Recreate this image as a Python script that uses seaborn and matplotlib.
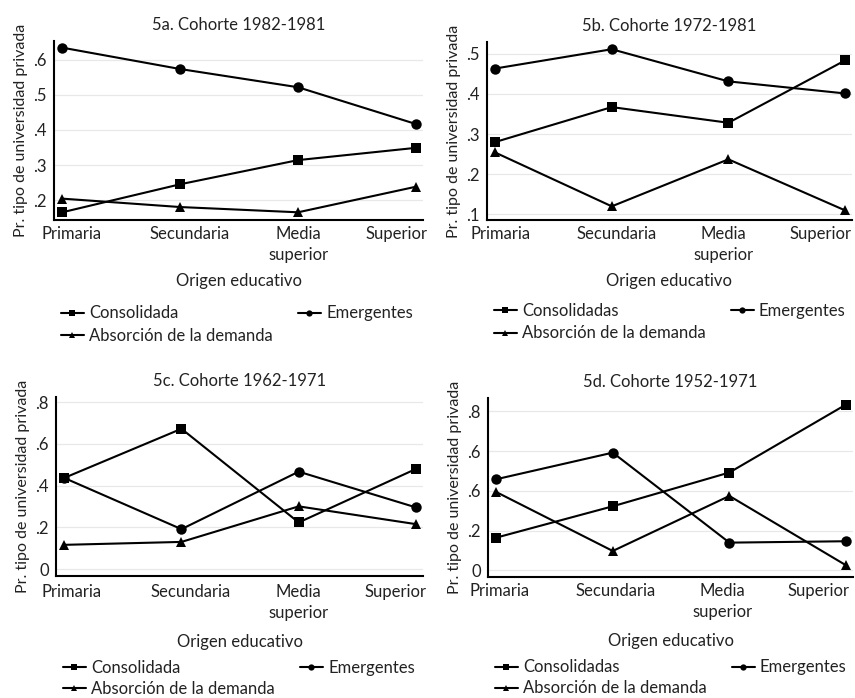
import matplotlib
matplotlib.use("Agg")
import matplotlib.pyplot as plt
import matplotlib.transforms as mtransforms
import seaborn as sns
import pandas as pd

categories = ["Primaria", "Secundaria", "Media\nsuperior", "Superior"]

titles = ["5a. Cohorte 1982-1981", "5b. Cohorte 1972-1981",
          "5c. Cohorte 1962-1971", "5d. Cohorte 1952-1971"]
consol_labels = ["Consolidada", "Consolidadas", "Consolidada", "Consolidadas"]
emerg_label = "Emergentes"
absor_label = "Absorción de la demanda"

consol_a = [0.165, 0.245, 0.314, 0.349]
emerg_a = [0.635, 0.574, 0.522, 0.417]
absor_a = [0.204, 0.180, 0.165, 0.238]

consol_b = [0.280, 0.367, 0.328, 0.483]
emerg_b = [0.463, 0.511, 0.431, 0.401]
absor_b = [0.254, 0.120, 0.237, 0.110]

consol_c = [0.437, 0.672, 0.224, 0.480]
emerg_c = [0.437, 0.192, 0.467, 0.296]
absor_c = [0.117, 0.131, 0.301, 0.216]

consol_d = [0.164, 0.322, 0.492, 0.834]
emerg_d = [0.458, 0.592, 0.139, 0.146]
absor_d = [0.394, 0.097, 0.374, 0.025]

yticks_ab = [[0.2, 0.3, 0.4, 0.5, 0.6], [0.1, 0.2, 0.3, 0.4, 0.5]]
yticklabels_ab = [[".2", ".3", ".4", ".5", ".6"], [".1", ".2", ".3", ".4", ".5"]]
yticks_cd = [0, 0.2, 0.4, 0.6, 0.8]
yticklabels_c = ["0", ".2", ".4", ".6", ".8"]
yticklabels_d = ["0", ".2", ".6", ".6", ".8"]

ylims = [(0.143, 0.654), (0.086, 0.529), (-0.032, 0.824), (-0.034, 0.867)]

sns.set_theme(style="white")
plt.rcParams["font.family"] = ["Lato", "DejaVu Sans"]

W, H = 855, 698
fig = plt.figure(figsize=(W / 100, H / 100), dpi=100)

# axes boxes in pixels: left, right, top, bottom
boxes = [(54, 423, 41, 220), (487, 852, 42, 220),
         (56, 423, 397, 576), (488, 853, 398, 577)]
# horizontal nudges (px) of the x tick labels, as in the reference
xlabel_shift = [[9, 9, 0, -19], [5, 5, -5, -25], [7, 9, 0, -20], [3, 3, -7, -28]]
xtick_pad = [4, 4, 5.5, 4.5]
xlab_pad = [7.7, 7.7, 9.5, 9.0]
legend_y = [-0.477, -0.467, -0.468, -0.46]
legend_spacing = [0.38, 0.38, 0.3, 0.3]

data = [(consol_a, emerg_a, absor_a), (consol_b, emerg_b, absor_b),
        (consol_c, emerg_c, absor_c), (consol_d, emerg_d, absor_d)]
yticks_all = [yticks_ab[0], yticks_ab[1], yticks_cd, yticks_cd]
ylabels_all = [yticklabels_ab[0], yticklabels_ab[1], yticklabels_c, yticklabels_d]

FS = 12
TXT = "#222222"

for i in range(4):
    l, r, t, b = boxes[i]
    ax = fig.add_axes([l / W, 1 - b / H, (r - l) / W, (b - t) / H])
    consol, emerg, absor = data[i]
    df = pd.DataFrame({"cat": categories, "c": consol, "e": emerg, "a": absor})
    sns.lineplot(data=df, x="cat", y="c", marker="s", markersize=7, color="black",
                 linewidth=1.5, markeredgewidth=0, ax=ax, label=consol_labels[i], sort=False)
    sns.lineplot(data=df, x="cat", y="e", marker="o", markersize=7.5, color="black",
                 linewidth=1.5, markeredgewidth=0, ax=ax, label=emerg_label, sort=False)
    sns.lineplot(data=df, x="cat", y="a", marker="^", markersize=6.5, color="black",
                 linewidth=1.5, markeredgewidth=0, ax=ax, label=absor_label, sort=False)
    ax.set_xlim(-0.07, 3.06)
    ax.set_ylim(*ylims[i])
    ax.set_yticks(yticks_all[i])
    ax.set_yticklabels(ylabels_all[i])
    ax.yaxis.grid(True, color="#e8e8e8", linewidth=0.9)
    ax.set_axisbelow(True)
    for s in ["top", "right"]:
        ax.spines[s].set_visible(False)
    for s in ["left", "bottom"]:
        ax.spines[s].set_color("black")
        ax.spines[s].set_linewidth(1.5)
    ax.tick_params(axis="both", length=0, labelsize=FS, colors=TXT)
    ax.tick_params(axis="y", pad=5)
    ax.tick_params(axis="x", pad=xtick_pad[i])
    for k, lab in enumerate(ax.get_xticklabels()):
        lab.set_linespacing(1.4)
        lab.set_transform(lab.get_transform() +
                          mtransforms.ScaledTranslation(xlabel_shift[i][k] / 100, 0,
                                                        fig.dpi_scale_trans))
    ax.set_title(titles[i], fontsize=FS, color=TXT, pad=8)
    ax.set_xlabel("Origen educativo", fontsize=FS, color=TXT, labelpad=xlab_pad[i])
    ax.set_ylabel("Pr. tipo de universidad privada", fontsize=11.5, color=TXT, labelpad=4)
    handles, labels = ax.get_legend_handles_labels()
    order = [0, 2, 1]
    ax.legend([handles[k] for k in order], [labels[k] for k in order],
              ncol=2, frameon=False, loc="upper left", bbox_to_anchor=(0.018, legend_y[i]),
              fontsize=FS, handlelength=1.4, handletextpad=0.3, columnspacing=1.5,
              labelspacing=legend_spacing[i], markerscale=0.6, borderaxespad=0, borderpad=0)
    leg = ax.get_legend()
    for txt in leg.get_texts():
        txt.set_color(TXT)

fig.savefig("out.png", dpi=100)
